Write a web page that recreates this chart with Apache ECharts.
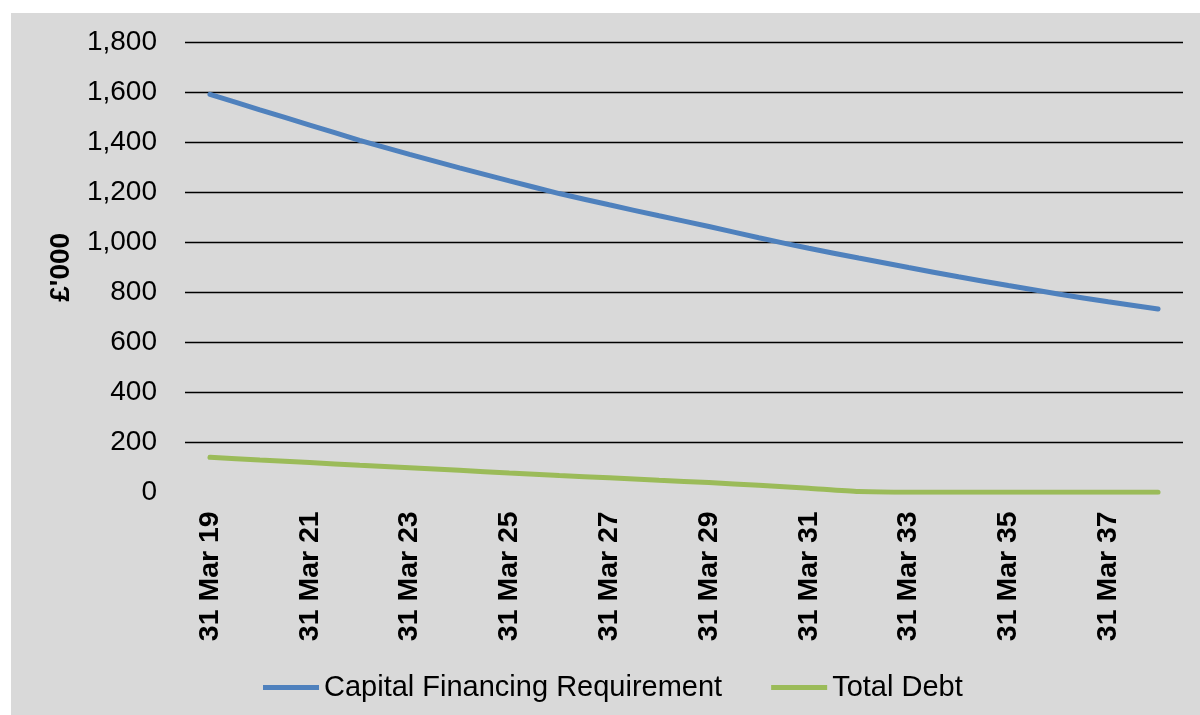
<!DOCTYPE html>
<html>
<head>
<meta charset="utf-8">
<script src="https://cdn.jsdelivr.net/npm/echarts@6/dist/echarts.min.js"></script>
<style>
html,body{margin:0;padding:0;background:#ffffff;}
#bg{position:absolute;left:11px;top:13px;width:1189px;height:702px;background:#d9d9d9;}
#chart{position:absolute;left:0;top:0;width:1200px;height:715px;}
</style>
</head>
<body>
<div id="bg"></div>
<div id="chart"></div>
<script>
const categories = ['31 Mar 19','31 Mar 20','31 Mar 21','31 Mar 22','31 Mar 23','31 Mar 24','31 Mar 25','31 Mar 26','31 Mar 27','31 Mar 28','31 Mar 29','31 Mar 30','31 Mar 31','31 Mar 32','31 Mar 33','31 Mar 34','31 Mar 35','31 Mar 36','31 Mar 37','31 Mar 38'];
const cfr = [1592,1530,1469,1408,1352,1298,1246,1195,1150,1106,1063,1018,976,937,899,862,827,793,762,733];
const totalDebt = [140,129,119,108,98,88,77,67,58,48,39,28,16,3,0,0,0,0,0,0];
const yTicks = {min:0, max:1800, interval:200};
const seriesNames = ['Capital Financing Requirement','Total Debt'];

const chart = echarts.init(document.getElementById('chart'), null, {renderer:'canvas'});
const FONT = 'Liberation Sans, Arial, sans-serif';
chart.setOption({
  backgroundColor: 'transparent',
  animation: false,
  grid: {left: 185, right: 17, top: 42.3, bottom: 222.7, containLabel: false},
  legend: {
    data: seriesNames,
    left: 258, top: 668,
    itemWidth: 56, itemHeight: 14, itemGap: 49,
    textStyle: {fontFamily: FONT, fontSize: 29, color: '#000'},
    icon: 'path://M0,0 L56,0 L56,5 L0,5 Z'
  },
  xAxis: {
    type: 'category',
    data: categories,
    boundaryGap: true,
    axisLine: {show: false},
    axisTick: {show: false},
    axisLabel: {
      interval: 1, rotate: 90, margin: 19,
      fontFamily: FONT, fontSize: 28.5, fontWeight: 'bold', color: '#000'
    },
    splitLine: {show: false}
  },
  yAxis: {
    type: 'value',
    min: yTicks.min, max: yTicks.max, interval: yTicks.interval,
    name: "£'000",
    nameLocation: 'middle',
    nameGap: 110,
    nameRotate: 90,
    nameTextStyle: {fontFamily: FONT, fontSize: 28, fontWeight: 'bold', color: '#000'},
    axisLine: {show: false},
    axisTick: {show: false},
    axisLabel: {
      margin: 28, fontFamily: FONT, fontSize: 28, color: '#000',
      formatter: v => v.toLocaleString('en-GB')
    },
    splitLine: {show: true, showMinLine: false, lineStyle: {color: '#000', width: 1.3}}
  },
  series: [
    {
      name: seriesNames[0], type: 'line', data: cfr, symbol: 'none', smooth: 0.2,
      lineStyle: {color: '#4f81bd', width: 5, cap: 'round'},
      itemStyle: {color: '#4f81bd'}
    },
    {
      name: seriesNames[1], type: 'line', data: totalDebt, symbol: 'none', smooth: 0.2,
      lineStyle: {color: '#9bbb59', width: 5, cap: 'round'},
      itemStyle: {color: '#9bbb59'}
    }
  ]
});
</script>
</body>
</html>
